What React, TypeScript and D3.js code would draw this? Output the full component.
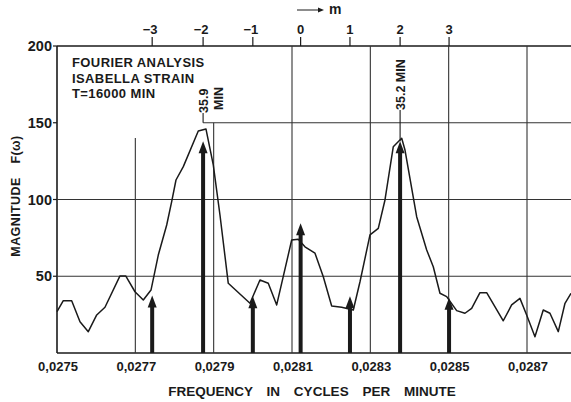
import React from "react";
import * as d3 from "d3";

// Spectrum curve (frequency in cycles/min, magnitude)
const freq = [
  0.0275, 0.0275161, 0.0275375, 0.0275587, 0.0275799, 0.0276014, 0.0276225, 0.0276608, 0.0276754, 0.0276991,
  0.0277203, 0.02774, 0.0277586, 0.0277801, 0.0277928, 0.0278038, 0.0278225, 0.0278607, 0.0278804, 0.027899,
  0.0279161, 0.0279373, 0.0279927, 0.0280182, 0.0280394, 0.0280609, 0.0280992, 0.028116, 0.0281331, 0.0281587,
  0.0281799, 0.0282013, 0.0282268, 0.0282565, 0.0282736, 0.0282991, 0.0283203, 0.0283374, 0.0283586, 0.0283673,
  0.0283801, 0.0283885, 0.0284183, 0.0284439, 0.0284607, 0.0284778, 0.0284949, 0.0285204, 0.0285416, 0.0285587,
  0.0285799, 0.028597, 0.0286394, 0.0286608, 0.028682, 0.0286991, 0.0287203, 0.0287415, 0.0287586, 0.0287799,
  0.028797, 0.0288123,
];
const magnitude = [
  26.9, 34.1, 34.1, 20.4, 13.9, 24.8, 29.8, 50.2, 50.2, 39.9,
  34.5, 41.0, 63.8, 83.4, 98.6, 112.7, 121.4, 144.6, 145.9, 122.5,
  89.9, 45.4, 32.4, 47.6, 45.4, 31.3, 73.6, 74.1, 69.2, 65.0,
  49.7, 30.6, 29.8, 28.0, 46.4, 76.9, 81.2, 99.7, 134.4, 136.6,
  139.9, 132.2, 88.8, 67.1, 56.2, 38.9, 36.7, 27.6, 25.9, 29.1,
  39.3, 39.3, 21.0, 31.3, 35.6, 24.8, 10.6, 28.0, 25.9, 13.9,
  32.4, 38.9,
];

// Harmonic index m (top axis) and their frequencies / arrow heights
const mTicks = [-3, -2, -1, 0, 1, 2, 3];
const mFreq = [0.027743, 0.027873, 0.028000, 0.028122, 0.028248, 0.028376, 0.028501];
const arrowHeights = [37.5, 138, 37, 84.5, 37, 138, 36];

const xTicks = [0.0275, 0.0277, 0.0279, 0.0281, 0.0283, 0.0285, 0.0287];
const xTickLabels = ["0,0275", "0,0277", "0,0279", "0,0281", "0,0283", "0,0285", "0,0287"];
const yTicks = [50, 100, 150, 200];
const legendLines = ["FOURIER ANALYSIS", "ISABELLA STRAIN", "T=16000 MIN"];

const W = 571;
const H = 402;
const FONT = "'Liberation Sans', Arial, sans-serif";
const INK = "#1a1a1a";

export default function App() {
  const x = d3.scaleLinear().domain([0.0275, 0.0287]).range([57, 527]);
  const y = d3.scaleLinear().domain([0, 200]).range([353, 46]);
  const xL = x.range()[0];
  const xR = W;
  const y0 = y(0);
  const yTop = y(200);

  const line = d3
    .line<number>()
    .x((_, i) => x(freq[i]))
    .y((d) => y(d));

  const partialV: Record<number, number> = { 0.0277: 140, 0.0279: 150 };

  const xm2 = x(mFreq[1]);
  const xm2b = x(mFreq[5]);

  return (
    <svg
      width={W}
      height={H}
      style={{ position: "fixed", left: 0, top: 0, background: "#fff" }}
      fontFamily={FONT}
    >
      <rect width={W} height={H} fill="#fff" />
      {/* frame */}
      <line x1={xL} x2={xR} y1={yTop} y2={yTop} stroke={INK} strokeWidth={1.4} />
      <line x1={xL} x2={xR} y1={y0} y2={y0} stroke={INK} strokeWidth={1.6} />
      <line x1={xL} x2={xL} y1={yTop} y2={y0} stroke={INK} strokeWidth={1.6} />
      {/* horizontal grid */}
      <line x1={xL} x2={xR} y1={y(50)} y2={y(50)} stroke="#333" strokeWidth={1.1} />
      <line x1={xL} x2={xR} y1={y(100)} y2={y(100)} stroke="#333" strokeWidth={1.1} />
      <line x1={xm2} x2={xR} y1={y(150)} y2={y(150)} stroke="#333" strokeWidth={1.1} />
      {/* vertical grid */}
      {xTicks.slice(1).map((t) => (
        <line
          key={t}
          x1={x(t)}
          x2={x(t)}
          y1={partialV[t] !== undefined ? y(partialV[t]) : yTop}
          y2={y0}
          stroke="#333"
          strokeWidth={1.1}
        />
      ))}
      {/* y ticks */}
      {yTicks.map((t) => (
        <g key={t}>
          <line x1={xL - 4} x2={xL} y1={y(t)} y2={y(t)} stroke={INK} strokeWidth={1.2} />
          <text
            x={xL - 5}
            y={y(t)}
            dy="0.36em"
            textAnchor="end"
            fontSize={14.5}
            fontWeight={700}
            fill={INK}
          >
            {t}
          </text>
        </g>
      ))}
      {/* x tick labels */}
      {xTicks.map((t, i) => (
        <text
          key={t}
          x={x(t) + 1}
          y={371}
          textAnchor="middle"
          fontSize={13}
          fontWeight={700}
          fill={INK}
        >
          {xTickLabels[i]}
        </text>
      ))}
      {/* axis titles */}
      <text
        x={312}
        y={396}
        textAnchor="middle"
        fontSize={13.5}
        fontWeight={700}
        fill={INK}
        wordSpacing={10}
      >
        FREQUENCY IN CYCLES PER MINUTE
      </text>
      <text
        transform="translate(20,196) rotate(-90)"
        textAnchor="middle"
        fontSize={12.5}
        fontWeight={700}
        fill={INK}
        wordSpacing={10}
        letterSpacing={0.4}
      >
        MAGNITUDE F(ω)
      </text>
      {/* top m axis */}
      {mTicks.map((m, i) => (
        <g key={m}>
          <line x1={x(mFreq[i])} x2={x(mFreq[i])} y1={37} y2={yTop} stroke={INK} strokeWidth={1.2} />
          <text
            x={x(mFreq[i]) - (m < 0 ? 2 : 0)}
            y={34}
            textAnchor="middle"
            fontSize={13}
            fontWeight={700}
            fill={INK}
          >
            {m < 0 ? "−" + Math.abs(m) : m}
          </text>
        </g>
      ))}
      <line x1={297} x2={318} y1={10} y2={10} stroke={INK} strokeWidth={1} />
      <path d="M318,7.5 L324,10 L318,12.5 Z" fill={INK} />
      <text x={329} y={14} fontSize={14} fontWeight={700} fill={INK}>
        m
      </text>
      {/* legend */}
      {legendLines.map((s, i) => (
        <text key={s} x={72} y={67 + i * 15.5} fontSize={13} fontWeight={700} fill={INK} letterSpacing={0.4}>
          {s}
        </text>
      ))}
      {/* period annotations */}
      <line x1={xm2} x2={xm2} y1={113} y2={y(150)} stroke={INK} strokeWidth={1.1} />
      <text
        transform={`translate(${xm2 + 5},${113}) rotate(-90)`}
        fontSize={12.5}
        fontWeight={700}
        fill={INK}
      >
        35.9
      </text>
      <text
        transform={`translate(${xm2 + 20},${110}) rotate(-90)`}
        fontSize={12.5}
        fontWeight={700}
        fill={INK}
      >
        MIN
      </text>
      <line x1={xm2b} x2={xm2b} y1={110} y2={y(138)} stroke={INK} strokeWidth={1.1} />
      <text
        transform={`translate(${xm2b + 5},${110}) rotate(-90)`}
        fontSize={12.5}
        fontWeight={700}
        fill={INK}
      >
        35.2 MIN
      </text>
      {/* spectrum curve */}
      <path d={line(magnitude) || ""} fill="none" stroke={INK} strokeWidth={1.5} strokeLinejoin="round" />
      {/* arrows */}
      {mTicks.map((m, i) => {
        const xa = x(mFreq[i]);
        const ya = y(arrowHeights[i]);
        const hh = 12;
        const hw = 4.5;
        return (
          <g key={"a" + m}>
            <rect x={xa - 2} y={ya + hh - 1} width={4} height={y0 - ya - hh + 1} fill={INK} />
            <path d={`M${xa},${ya} L${xa + hw},${ya + hh} L${xa - hw},${ya + hh} Z`} fill={INK} />
          </g>
        );
      })}
    </svg>
  );
}
